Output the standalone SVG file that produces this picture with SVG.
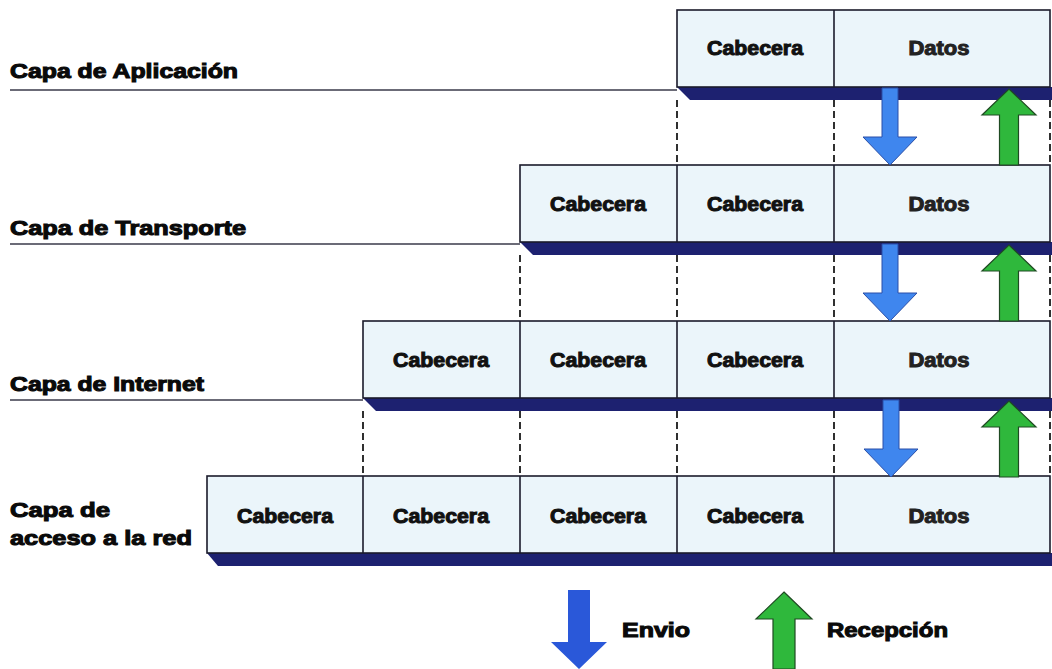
<svg xmlns="http://www.w3.org/2000/svg" width="1052" height="669" viewBox="0 0 1052 669">
  <style>
    .box { fill: #ebf5fa; stroke: #1b1b2b; stroke-width: 1.6; }
    .div { stroke: #1b1b2b; stroke-width: 1.6; }
    .band { fill: #1d2170; }
    .rule { stroke: #3a3a4a; stroke-width: 1.6; }
    .dash { stroke: #1a1a1a; stroke-width: 1.8; stroke-dasharray: 7 4; fill: none; }
    .cell { font-family: "Liberation Sans", Arial, sans-serif; font-weight: bold; font-size: 19.5px; fill: #111; stroke: #111; stroke-width: 1; text-anchor: middle; }
    .data { fill: #222; stroke: #222; }
    .lbl { font-family: "Liberation Sans", Arial, sans-serif; font-weight: bold; font-size: 21px; fill: #0a0a0a; stroke: #0a0a0a; stroke-width: 1.1; }
    .down { fill: #3f86ee; stroke: #2a4fa8; stroke-width: 1; }
    .up { fill: #2fb83c; stroke: #1f4a22; stroke-width: 1.2; }
    .down-key { fill: #2a58d9; }
  </style>
  <defs>
    <path id="arrow-down" d="M-8,0 H8 V49 H27 L0,77 L-27,49 H-8 Z"/>
    <path id="arrow-up" d="M0,0 L27,26 H9.5 V76 H-9.5 V26 H-27 Z"/>
  </defs>

  <!-- layer labels with their rules -->
  <g id="label-aplicacion">
    <line class="rule" x1="10" y1="90" x2="677" y2="90"/>
    <text class="lbl" x="10" y="78" textLength="228" lengthAdjust="spacingAndGlyphs">Capa de Aplicación</text>
  </g>
  <g id="label-transporte">
    <line class="rule" x1="10" y1="244" x2="520" y2="244"/>
    <text class="lbl" x="10" y="235" textLength="236" lengthAdjust="spacingAndGlyphs">Capa de Transporte</text>
  </g>
  <g id="label-internet">
    <line class="rule" x1="10" y1="400" x2="363" y2="400"/>
    <text class="lbl" x="10" y="391" textLength="194" lengthAdjust="spacingAndGlyphs">Capa de Internet</text>
  </g>
  <g id="label-acceso">
    <text class="lbl" x="10" y="517" textLength="100" lengthAdjust="spacingAndGlyphs">Capa de</text>
    <text class="lbl" x="10" y="545" textLength="182" lengthAdjust="spacingAndGlyphs">acceso a la red</text>
  </g>

  <!-- application layer frame -->
  <g id="row-aplicacion">
    <polygon class="band" points="677,87 1052,87 1052,100 690,100"/>
    <rect class="box" x="677" y="10" width="373" height="77"/>
    <line class="div" x1="834" y1="10" x2="834" y2="87"/>
    <text class="cell" x="755" y="55" textLength="96" lengthAdjust="spacingAndGlyphs">Cabecera</text>
    <text class="cell data" x="939" y="55" textLength="61" lengthAdjust="spacingAndGlyphs">Datos</text>
  </g>

  <!-- transport layer frame -->
  <g id="row-transporte">
    <polygon class="band" points="520,242 1052,242 1052,255 533,255"/>
    <rect class="box" x="520" y="165" width="530" height="77"/>
    <line class="div" x1="677" y1="165" x2="677" y2="242"/>
    <line class="div" x1="834" y1="165" x2="834" y2="242"/>
    <text class="cell" x="598" y="211" textLength="96" lengthAdjust="spacingAndGlyphs">Cabecera</text>
    <text class="cell" x="755" y="211" textLength="96" lengthAdjust="spacingAndGlyphs">Cabecera</text>
    <text class="cell data" x="939" y="211" textLength="61" lengthAdjust="spacingAndGlyphs">Datos</text>
  </g>

  <!-- internet layer frame -->
  <g id="row-internet">
    <polygon class="band" points="363,398 1052,398 1052,411 376,411"/>
    <rect class="box" x="363" y="321" width="687" height="77"/>
    <line class="div" x1="520" y1="321" x2="520" y2="398"/>
    <line class="div" x1="677" y1="321" x2="677" y2="398"/>
    <line class="div" x1="834" y1="321" x2="834" y2="398"/>
    <text class="cell" x="441" y="367" textLength="96" lengthAdjust="spacingAndGlyphs">Cabecera</text>
    <text class="cell" x="598" y="367" textLength="96" lengthAdjust="spacingAndGlyphs">Cabecera</text>
    <text class="cell" x="755" y="367" textLength="96" lengthAdjust="spacingAndGlyphs">Cabecera</text>
    <text class="cell data" x="939" y="367" textLength="61" lengthAdjust="spacingAndGlyphs">Datos</text>
  </g>

  <!-- network access layer frame -->
  <g id="row-acceso">
    <polygon class="band" points="207,553 1052,553 1052,566 218,566"/>
    <rect class="box" x="207" y="476" width="843" height="77"/>
    <line class="div" x1="363" y1="476" x2="363" y2="553"/>
    <line class="div" x1="520" y1="476" x2="520" y2="553"/>
    <line class="div" x1="677" y1="476" x2="677" y2="553"/>
    <line class="div" x1="834" y1="476" x2="834" y2="553"/>
    <text class="cell" x="285" y="523" textLength="96" lengthAdjust="spacingAndGlyphs">Cabecera</text>
    <text class="cell" x="441" y="523" textLength="96" lengthAdjust="spacingAndGlyphs">Cabecera</text>
    <text class="cell" x="598" y="523" textLength="96" lengthAdjust="spacingAndGlyphs">Cabecera</text>
    <text class="cell" x="755" y="523" textLength="96" lengthAdjust="spacingAndGlyphs">Cabecera</text>
    <text class="cell data" x="939" y="523" textLength="61" lengthAdjust="spacingAndGlyphs">Datos</text>
  </g>

  <!-- connectors: dashed field alignment and send / receive arrows -->
  <g id="connectors">
    <path class="dash" d="M677,100 V165 M834,100 V165 M1050,100 V165"/>
    <path class="dash" d="M520,255 V321 M677,255 V321 M834,255 V321 M1050,255 V321"/>
    <path class="dash" d="M363,411 V476 M520,411 V476 M677,411 V476 M834,411 V476 M1050,411 V476"/>
    <use href="#arrow-down" class="down" x="890" y="88"/>
    <use href="#arrow-down" class="down" x="890" y="244"/>
    <use href="#arrow-down" class="down" x="891" y="400"/>
    <use href="#arrow-up" class="up" x="1009" y="89"/>
    <use href="#arrow-up" class="up" x="1009" y="245"/>
    <use href="#arrow-up" class="up" x="1009" y="401"/>
  </g>

  <!-- legend -->
  <g id="legend-envio">
    <path class="down-key" d="M568,590 H590 V642 H607 L579,669 L551,642 H568 Z"/>
    <text class="lbl" x="622" y="637" textLength="68" lengthAdjust="spacingAndGlyphs">Envio</text>
  </g>
  <g id="legend-recepcion">
    <path class="up" d="M784,592 L812,619 H795 V669 H773 V619 H756 Z"/>
    <text class="lbl" x="827" y="637" textLength="121" lengthAdjust="spacingAndGlyphs">Recepción</text>
  </g>
</svg>
